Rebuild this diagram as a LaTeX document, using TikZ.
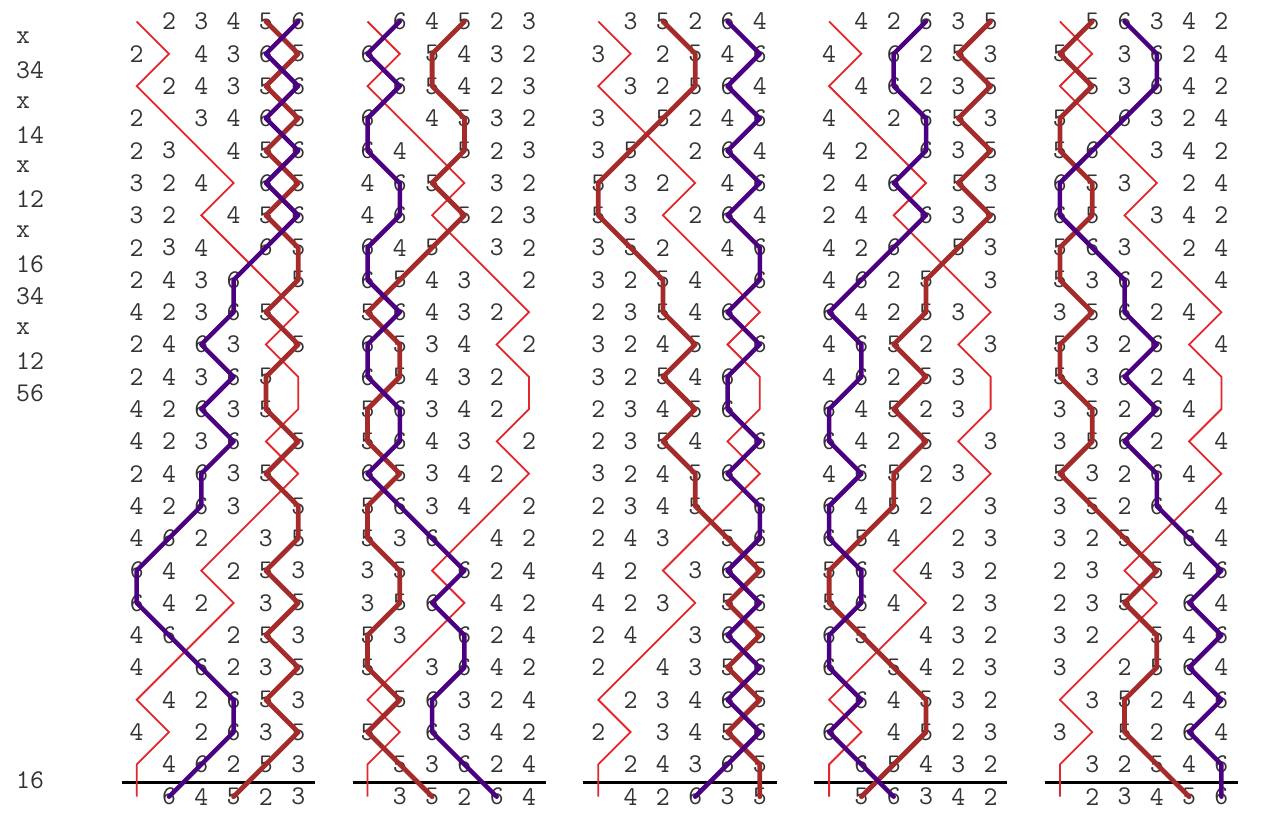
\documentclass[tikz,border=0pt]{standalone}
\usepackage{fontspec}
\definecolor{redp}{HTML}{E3262B}
\definecolor{purp}{HTML}{4B0082}
\definecolor{brnp}{HTML}{A52A2A}
\tikzset{
  digit/.style={font=\fontsize{27}{27}\selectfont\ttfamily, text=black!80, inner sep=0pt, anchor=center},
  lab/.style={font=\fontsize{27}{27}\selectfont\ttfamily, text=black!80, inner sep=0pt, anchor=west},
  blankpath/.style={draw=redp, line width=1.8pt, line join=miter},
  sixpath/.style={draw=purp, line width=4.5pt, line join=round, line cap=round},
  fivepath/.style={draw=brnp, line width=4.8pt, line join=round, line cap=round},
  rule/.style={draw=black, line width=2.6pt}
}
\newcommand\drawpanel[3]{%
  \foreach \row [count=\r from 0] in {#3} {
    \foreach \v [count=\c] in \row {
      \pgfmathsetmacro\xx{#2+32.3*(\c-1)}
      \pgfmathsetmacro\yy{21.5+32.3*\r}
      \node[digit] (p#1-\r-\c) at (\xx,\yy) {\ifnum\v>0 \v\fi};
      \ifnum\v=0 \coordinate (p#1-b-\r) at (\xx,\yy);\fi
      \ifnum\v=5 \coordinate (p#1-f-\r) at (\xx,\yy);\fi
      \ifnum\v=6 \coordinate (p#1-s-\r) at (\xx,\yy);\fi
    }
  }
  \coordinate (p#1-L) at (#2-15,782.5);
  \coordinate (p#1-R) at (#2+178.2,782.5);
  \draw[rule] (p#1-L) -- (p#1-R);
  \draw[blankpath] (p#1-b-0) \foreach \r in {1,...,24}{ -- (p#1-b-\r)};
  \draw[fivepath] (p#1-f-0) \foreach \r in {1,...,24}{ -- (p#1-f-\r)};
  \draw[sixpath] (p#1-s-0) \foreach \r in {1,...,24}{ -- (p#1-s-\r)};
}
\begin{document}
\begin{tikzpicture}[x=1pt,y=-1pt]
\useasboundingbox (0,0) rectangle (1263,826);
\fill[white] (0,0) rectangle (1263,826);
% left labels
\node[lab] (l0) at (16,37.7) {x};
\node[lab] (l1) at (16,70.0) {34};
\node[lab] (l2) at (16,102.3) {x};
\node[lab] (l3) at (16,134.6) {14};
\node[lab] (l4) at (16,166.9) {x};
\node[lab] (l5) at (16,199.2) {12};
\node[lab] (l6) at (16,231.5) {x};
\node[lab] (l7) at (16,263.8) {16};
\node[lab] (l8) at (16,296.1) {34};
\node[lab] (l9) at (16,328.4) {x};
\node[lab] (l10) at (16,360.7) {12};
\node[lab] (l11) at (16,393.0) {56};
\node[lab] (l23) at (16,780.6) {16};
% panel 1
\drawpanel{1}{136.7}{
{0,2,3,4,5,6},{2,0,4,3,6,5},{0,2,4,3,5,6},{2,0,3,4,6,5},{2,3,0,4,5,6},
{3,2,4,0,6,5},{3,2,0,4,5,6},{2,3,4,0,6,5},{2,4,3,6,0,5},{4,2,3,6,5,0},
{2,4,6,3,0,5},{2,4,3,6,5,0},{4,2,6,3,5,0},{4,2,3,6,0,5},{2,4,6,3,5,0},
{4,2,6,3,0,5},{4,6,2,0,3,5},{6,4,0,2,5,3},{6,4,2,0,3,5},{4,6,0,2,5,3},
{4,0,6,2,3,5},{0,4,2,6,5,3},{4,0,2,6,3,5},{0,4,6,2,5,3},{0,6,4,5,2,3}}
% panel 2
\drawpanel{2}{367.5}{
{0,6,4,5,2,3},{6,0,5,4,3,2},{0,6,5,4,2,3},{6,0,4,5,3,2},{6,4,0,5,2,3},
{4,6,5,0,3,2},{4,6,0,5,2,3},{6,4,5,0,3,2},{6,5,4,3,0,2},{5,6,4,3,2,0},
{6,5,3,4,0,2},{6,5,4,3,2,0},{5,6,3,4,2,0},{5,6,4,3,0,2},{6,5,3,4,2,0},
{5,6,3,4,0,2},{5,3,6,0,4,2},{3,5,0,6,2,4},{3,5,6,0,4,2},{5,3,0,6,2,4},
{5,0,3,6,4,2},{0,5,6,3,2,4},{5,0,6,3,4,2},{0,5,3,6,2,4},{0,3,5,2,6,4}}
% panel 3
\drawpanel{3}{598.3}{
{0,3,5,2,6,4},{3,0,2,5,4,6},{0,3,2,5,6,4},{3,0,5,2,4,6},{3,5,0,2,6,4},
{5,3,2,0,4,6},{5,3,0,2,6,4},{3,5,2,0,4,6},{3,2,5,4,0,6},{2,3,5,4,6,0},
{3,2,4,5,0,6},{3,2,5,4,6,0},{2,3,4,5,6,0},{2,3,5,4,0,6},{3,2,4,5,6,0},
{2,3,4,5,0,6},{2,4,3,0,5,6},{4,2,0,3,6,5},{4,2,3,0,5,6},{2,4,0,3,6,5},
{2,0,4,3,5,6},{0,2,3,4,6,5},{2,0,3,4,5,6},{0,2,4,3,6,5},{0,4,2,6,3,5}}
% panel 4
\drawpanel{4}{829.1}{
{0,4,2,6,3,5},{4,0,6,2,5,3},{0,4,6,2,3,5},{4,0,2,6,5,3},{4,2,0,6,3,5},
{2,4,6,0,5,3},{2,4,0,6,3,5},{4,2,6,0,5,3},{4,6,2,5,0,3},{6,4,2,5,3,0},
{4,6,5,2,0,3},{4,6,2,5,3,0},{6,4,5,2,3,0},{6,4,2,5,0,3},{4,6,5,2,3,0},
{6,4,5,2,0,3},{6,5,4,0,2,3},{5,6,0,4,3,2},{5,6,4,0,2,3},{6,5,0,4,3,2},
{6,0,5,4,2,3},{0,6,4,5,3,2},{6,0,4,5,2,3},{0,6,5,4,3,2},{0,5,6,3,4,2}}
% panel 5
\drawpanel{5}{1059.9}{
{0,5,6,3,4,2},{5,0,3,6,2,4},{0,5,3,6,4,2},{5,0,6,3,2,4},{5,6,0,3,4,2},
{6,5,3,0,2,4},{6,5,0,3,4,2},{5,6,3,0,2,4},{5,3,6,2,0,4},{3,5,6,2,4,0},
{5,3,2,6,0,4},{5,3,6,2,4,0},{3,5,2,6,4,0},{3,5,6,2,0,4},{5,3,2,6,4,0},
{3,5,2,6,0,4},{3,2,5,0,6,4},{2,3,0,5,4,6},{2,3,5,0,6,4},{3,2,0,5,4,6},
{3,0,2,5,6,4},{0,3,5,2,4,6},{3,0,5,2,6,4},{0,3,2,5,4,6},{0,2,3,4,5,6}}
\end{tikzpicture}
\end{document}
